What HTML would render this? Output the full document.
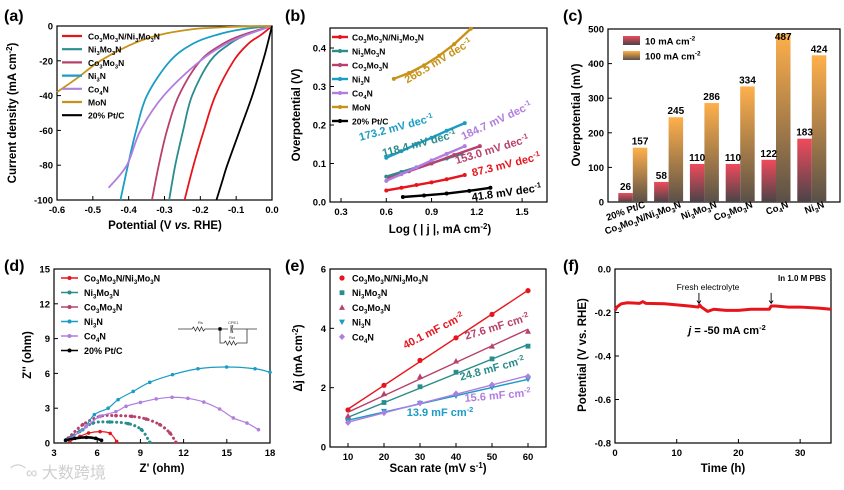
<!DOCTYPE html>
<html><head><meta charset="utf-8">
<style>
html,body{margin:0;padding:0;background:#fff;}
svg{display:block;font-family:"Liberation Sans","Noto Sans CJK SC",sans-serif;font-weight:bold;}
</style></head>
<body>
<svg id="root" width="844" height="490" viewBox="0 0 844 490" xmlns="http://www.w3.org/2000/svg">
<defs>
<linearGradient id="gRed" x1="0" y1="0" x2="0" y2="1"><stop offset="0" stop-color="#f04a5c"/><stop offset="1" stop-color="#4a4448"/></linearGradient>
<linearGradient id="gOr" x1="0" y1="0" x2="0" y2="1"><stop offset="0" stop-color="#ffb04a"/><stop offset="1" stop-color="#5a5048"/></linearGradient>
</defs>
</svg>
<script>
// ---------- Panel (a) data ----------
const aNames=["Co_3Mo_3N/Ni_3Mo_3N","Ni_3Mo_3N","Co_3Mo_3N","Ni_3N","Co_4N","MoN","20% Pt/C"];
const aColors=["#e8141c","#2a8c8c","#b8406c","#1a9cc4","#b07ee0","#c8921a","#000000"];
const aJ_red=[0,-5,-10,-20,-40,-60,-80,-100];
const aE_red=[0,-0.03,-0.065,-0.107,-0.158,-0.19,-0.219,-0.244];
const aJ_ni3mo3n=[0,-5,-10,-20,-40,-60,-80,-100];
const aE_ni3mo3n=[0,-0.07,-0.116,-0.172,-0.223,-0.248,-0.27,-0.287];
const aJ_co3mo3n=[0,-5,-10,-20,-40,-60,-80,-100];
const aE_co3mo3n=[0,-0.08,-0.135,-0.2,-0.26,-0.293,-0.316,-0.335];
const aJ_ni3n=[0,-2,-5,-10,-20,-40,-60,-80,-100];
const aE_ni3n=[0,-0.088,-0.153,-0.219,-0.284,-0.349,-0.379,-0.402,-0.423];
const aJ_co4n=[0,-5,-10,-20,-40,-60,-80,-93];
const aE_co4n=[0,-0.07,-0.126,-0.2,-0.302,-0.367,-0.405,-0.456];
const aJ_mon=[0,-0.3,-1,-2,-5,-10,-20,-30,-38];
const aE_mon=[0,-0.08,-0.163,-0.228,-0.312,-0.386,-0.479,-0.544,-0.6];
const aJ_pt=[0,-10,-20,-40,-60,-80,-90,-100];
const aE_pt=[0,-0.012,-0.025,-0.055,-0.09,-0.125,-0.14,-0.155];
const aXTicks=[-0.6,-0.5,-0.4,-0.3,-0.2,-0.1,0.0];
const aYTicks=[0,-20,-40,-60,-80,-100];

// ---------- Panel (b) data ----------
const bX_red=[0.6,0.7,0.8,0.9,1.0,1.12];
const bY_red=[0.03,0.037,0.044,0.051,0.059,0.07];
const bX_ni3mo3n=[0.6,0.7,0.8,0.9,1.0,1.1];
const bY_ni3mo3n=[0.066,0.078,0.09,0.101,0.113,0.125];
const bX_co3mo3n=[0.62,0.75,0.9,1.05,1.22];
const bY_co3mo3n=[0.062,0.08,0.1,0.122,0.145];
const bX_ni3n=[0.6,0.7,0.8,0.9,1.0,1.12];
const bY_ni3n=[0.115,0.132,0.15,0.167,0.185,0.205];
const bX_co4n=[0.6,0.7,0.8,0.9,1.0,1.12];
const bY_co4n=[0.055,0.072,0.09,0.108,0.125,0.145];
const bX_mon=[0.65,0.75,0.85,0.95,1.05,1.16];
const bY_mon=[0.32,0.335,0.355,0.38,0.41,0.45];
const bX_pt=[0.71,0.85,1.0,1.15,1.29];
const bY_pt=[0.013,0.017,0.022,0.029,0.037];
const bSlopes=["87.3","118.4","153.0","173.2","184.7","266.5","41.8"];
const bXTicks=[0.3,0.6,0.9,1.2,1.5];
const bYTicks=[0.0,0.1,0.2,0.3,0.4];

// ---------- Panel (c) data ----------
const cCats=["20% Pt/C","Co_3Mo_3N/Ni_3Mo_3N","Ni_3Mo_3N","Co_3Mo_3N","Co_4N","Ni_3N"];
const cV10=[26,58,110,110,122,183];
const cV100=[157,245,286,334,487,424];
const cYTicks=[0,100,200,300,400,500];

// ---------- Panel (d) data ----------
const dX_red=[4.1,4.8,5.4,6.2,6.9,7.35];
const dY_red=[0.14,0.57,0.86,0.98,0.83,0.14];
const dX_ni3mo3n=[3.86,4.78,5.7,6.87,8.15,9.07,9.65];
const dY_ni3mo3n=[0.29,1.0,1.72,1.81,1.67,1.15,0.06];
const dX_co3mo3n=[4.0,5.0,6.2,7.3,8.4,9.4,10.35,11.05,11.46];
const dY_co3mo3n=[0.43,1.58,2.3,2.36,2.3,2.07,1.58,0.86,0.06];
const dX_ni3n=[3.86,5.0,5.8,6.76,7.45,8.5,9.65,11.23,13.0,14.99,16.96,18.0];
const dY_ni3n=[0.29,1.15,2.44,3.0,3.74,4.45,5.23,5.89,6.4,6.55,6.4,6.1];
const dX_co4n=[4.1,5.25,6.2,7.3,8.0,9.0,10.1,11.2,12.3,13.4,14.5,15.45,16.4,17.2];
const dY_co4n=[0.3,1.44,2.3,2.7,3.16,3.5,3.8,3.94,3.85,3.53,2.93,2.16,1.72,1.15];
const dX_pt=[3.8,4.45,5.25,5.9,6.3];
const dY_pt=[0.23,0.4,0.49,0.4,0.23];
const dXTicks=[3,6,9,12,15,18];
const dYTicks=[0,3,6,9,12,15];

// ---------- Panel (e) data ----------
const eScan=[10,20,30,40,50,60];
const eRed=[1.25,2.08,2.92,3.68,4.47,5.27];
const eNi3Mo3N=[0.95,1.5,2.03,2.52,2.97,3.4];
const eCo3Mo3N=[1.05,1.8,2.38,2.9,3.4,3.9];
const eNi3N=[0.88,1.2,1.47,1.72,2.0,2.28];
const eCo4N=[0.82,1.15,1.48,1.8,2.1,2.38];
const eCdl=["40.1","24.8","27.6","13.9","15.6"];
const eXTicks=[10,20,30,40,50,60];
const eYTicks=[0,2,4,6];

// ---------- Panel (f) data ----------
const fT=[0,0.3,1,2,4,4.5,5,8,12,13.5,13.7,14,15,16,18,20,22,25,25.3,26,28,30,33,35];
const fE=[-0.19,-0.175,-0.16,-0.155,-0.158,-0.15,-0.158,-0.16,-0.17,-0.175,-0.165,-0.175,-0.195,-0.185,-0.19,-0.19,-0.185,-0.185,-0.17,-0.17,-0.175,-0.175,-0.18,-0.185];
const fArrowT=[13.6,25.3];
const fXTicks=[0,10,20,30];
const fYTicks=[0.0,-0.2,-0.4,-0.6,-0.8];

const NS="http://www.w3.org/2000/svg";
const root=document.getElementById('root');
function mk(tag,attrs,parent){const e=document.createElementNS(NS,tag);for(const k in attrs)e.setAttribute(k,attrs[k]);(parent||root).appendChild(e);return e;}
function rich(s){
  const re=/_(\{[^}]*\}|.)|\^(\{[^}]*\}|.)/g;let out='',off=0,last=0,m;
  const seg=(t,type)=>{if(!t)return;const d=type==='sub'?2.5:type==='sup'?-4:0;out+=`<tspan dy="${d-off}" font-size="${type==='n'?'100%':'68%'}">${t}</tspan>`;off=d;};
  while((m=re.exec(s))){seg(s.slice(last,m.index),'n');const v=(m[1]||m[2]).replace(/[{}]/g,'');seg(v,m[1]?'sub':'sup');last=re.lastIndex;}
  seg(s.slice(last),'n');if(off!==0)out+=`<tspan dy="${-off}"></tspan>`;return out;}
function txt(x,y,s,size,attrs){const e=mk('text',Object.assign({x:x,y:y,'font-size':size},attrs||{}));e.innerHTML=rich(s);return e;}

function axes(p){
  const sx=v=>p.x0+(v-p.xmin)/(p.xmax-p.xmin)*(p.x1-p.x0);
  const sy=v=>p.y1-(v-p.ymin)/(p.ymax-p.ymin)*(p.y1-p.y0);
  const g=mk('g',{});
  
  
  const fr=mk('rect',{x:p.x0,y:p.y0,width:p.x1-p.x0,height:p.y1-p.y0,fill:'none',stroke:'#000','stroke-width':1.2},g);
  
  
  if(p.xticks){p.xticks.forEach(v=>{const x=sx(v);mk('line',{x1:x,x2:x,y1:p.y1,y2:p.y1-4,stroke:'#000','stroke-width':1},g);
    const t=txt(x,p.y1+13,p.xfmt(v),9.5,{'text-anchor':'middle'});g.appendChild(t);
    
    });}
  p.yticks.forEach(v=>{const y=sy(v);mk('line',{x1:p.x0,x2:p.x0+4,y1:y,y2:y,stroke:'#000','stroke-width':1},g);
    const t=txt(p.x0-4,y+3.5,p.yfmt(v),9.5,{'text-anchor':'end'});g.appendChild(t);
    
    });
  return {sx,sy};
}
function poly(pts,color,w,name,extra){const e=mk('polyline',Object.assign({points:pts.map(p=>p.join(',')).join(' '),fill:'none',stroke:color,'stroke-width':w,'stroke-linejoin':'round'},extra||{}));
  
  return e;}
function smoothD(P){let d=`M${P[0][0]},${P[0][1]}`;
  for(let i=0;i<P.length-1;i++){const p0=P[i-1]||P[i],p1=P[i],p2=P[i+1],p3=P[i+2]||p2;
    const c1=[p1[0]+(p2[0]-p0[0])/6,p1[1]+(p2[1]-p0[1])/6],c2=[p2[0]-(p3[0]-p1[0])/6,p2[1]-(p3[1]-p1[1])/6];
    d+=` C${c1[0]},${c1[1]} ${c2[0]},${c2[1]} ${p2[0]},${p2[1]}`;}return d;}
function smooth(pts,color,w,name,extra){const e=mk('path',Object.assign({d:smoothD(pts),fill:'none',stroke:color,'stroke-width':w},extra||{}));
  
  return e;}
function panelLabel(x,y,s){const t=txt(x,y,s,16,{});
  
  }
function title(x,y,s,rot,name){const t=txt(x,y,s,11.5,{'text-anchor':'middle',transform:rot?`rotate(-90 ${x} ${y})`:''});
  
  }

// ===== Panel A =====
{
const A=axes({name:'lsv',x0:57,x1:272,y0:26,y1:200,xmin:-0.6,xmax:0,ymin:-100,ymax:0,xticks:aXTicks,yticks:aYTicks,xfmt:v=>v.toFixed(1),yfmt:v=>String(v)});
const J=[aJ_red,aJ_ni3mo3n,aJ_co3mo3n,aJ_ni3n,aJ_co4n,aJ_mon,aJ_pt];
const E=[aE_red,aE_ni3mo3n,aE_co3mo3n,aE_ni3n,aE_co4n,aE_mon,aE_pt];
J.forEach((j,k)=>smooth(j.map((v,i)=>[A.sx(E[k][i]),A.sy(v)]),aColors[k],1.8,'lsv-curve'));
aNames.forEach((n,k)=>{const y=36+k*13.2;const l=mk('line',{x1:62,x2:82,y1:y,y2:y,stroke:aColors[k],'stroke-width':2.2});
  
  
  const t=txt(88,y+3.5,n,8.5,{});
  
  });
panelLabel(4,21,'(a)');
title(16,113,'Current density (mA cm^{-2})',true,'y-axis-title');
title(165,229,'Potential (V <tspan font-style="italic">vs.</tspan> RHE)',false,'x-axis-title');
}

// ===== Panel B =====
{
const B=axes({name:'tafel',x0:330,x1:547,y0:28,y1:202,xmin:0.227,xmax:1.665,ymin:0,ymax:0.452,xticks:bXTicks,yticks:bYTicks,xfmt:v=>v.toFixed(1),yfmt:v=>v.toFixed(1)});
const X=[bX_red,bX_ni3mo3n,bX_co3mo3n,bX_ni3n,bX_co4n,bX_mon,bX_pt];
const Y=[bY_red,bY_ni3mo3n,bY_co3mo3n,bY_ni3n,bY_co4n,bY_mon,bY_pt];
X.forEach((xs,k)=>{const pts=xs.map((v,i)=>[B.sx(v),B.sy(Y[k][i])]);poly(pts,aColors[k],2.4,'tafel-line');
  pts.forEach(p=>{const c=mk('circle',{cx:p[0],cy:p[1],r:2,fill:aColors[k]});
    
    });});
aNames.forEach((n,k)=>{const y=37+k*14;const l=mk('line',{x1:332,x2:348,y1:y,y2:y,stroke:aColors[k],'stroke-width':2.4});
  
  
  const c=mk('circle',{cx:340,cy:y,r:2,fill:aColors[k]});
  
  
  const t=txt(352,y+3.5,n,8.5,{});
  
  });
const lp=[[507,168,-14],[420,147,-15],[493,153,-17],[397,131,-15],[498,124,-25],[440,64,-31],[507,196,-8]];
bSlopes.forEach((s,k)=>{const t=txt(lp[k][0],lp[k][1],s+' mV dec^{-1}',11,{'text-anchor':'middle',fill:aColors[k],transform:`rotate(${lp[k][2]} ${lp[k][0]} ${lp[k][1]})`});
  
  });
panelLabel(285,21,'(b)');
title(300,115,'Overpotential (V)',true,'y-axis-title');
title(440,233,'Log ( | j |, mA cm^{-2})',false,'x-axis-title');
}

// ===== Panel C =====
{
const C=axes({name:'overpotential-bars',x0:608,x1:840,y0:29,y1:202,xmin:0,xmax:1,ymin:0,ymax:500,xticks:null,yticks:cYTicks,xfmt:v=>'',yfmt:v=>String(v)});
const pitch=35.8,c0=632.8,bw=14.5;
cCats.forEach((cat,i)=>{const cx=c0+pitch*i;
  const r=mk('rect',{x:cx-bw,y:C.sy(cV10[i]),width:bw,height:202-C.sy(cV10[i]),fill:'url(#gRed)'});
  
  
  const o=mk('rect',{x:cx,y:C.sy(cV100[i]),width:bw,height:202-C.sy(cV100[i]),fill:'url(#gOr)'});
  
  
  const t1=txt(cx-bw/2,C.sy(cV10[i])-3,String(cV10[i]),10,{'text-anchor':'middle'});
  
  
  const t2=txt(cx+bw/2,Math.max(C.sy(cV100[i])-3,40),String(cV100[i]),10,{'text-anchor':'middle'});
  
  
  const ex=cx+13, ey=207;
  const tl=txt(ex,ey,cat,9.5,{'text-anchor':'end',transform:`rotate(-20 ${ex} ${ey})`});
  
  });
[['url(#gRed)','10 mA cm^{-2}',41],['url(#gOr)','100 mA cm^{-2}',56]].forEach(([f,s,y])=>{
  const r=mk('rect',{x:623,y:y-5,width:17,height:9,fill:f});
  
  
  const t=txt(645,y+3.5,s,9.5,{});
  
  });
panelLabel(563,21,'(c)');
title(580,115,'Overpotential (mV)',true,'y-axis-title');
}

// ===== Panel D =====
{
const D=axes({name:'nyquist',x0:54,x1:270,y0:269,y1:443,xmin:3,xmax:18,ymin:0,ymax:15,xticks:dXTicks,yticks:dYTicks,xfmt:v=>String(v),yfmt:v=>String(v)});
const X=[dX_red,dX_ni3mo3n,dX_co3mo3n,dX_ni3n,dX_co4n,dX_pt];
const Y=[dY_red,dY_ni3mo3n,dY_co3mo3n,dY_ni3n,dY_co4n,dY_pt];
const cols=[aColors[0],aColors[1],aColors[2],aColors[3],aColors[4],aColors[6]];
const dashed=[false,true,true,false,false,false];
X.forEach((xs,k)=>{const pts=xs.map((v,i)=>[D.sx(v),D.sy(Y[k][i])]);
  smooth(pts,cols[k],k===5?2.6:1.2,'nyquist-curve',dashed[k]?{'stroke-dasharray':'0.1 4.5','stroke-width':3,'stroke-linecap':'round'}:{});
  pts.forEach(p=>{const c=mk('circle',{cx:p[0],cy:p[1],r:1.8,fill:cols[k]});
    
    });});
const dn=["Co_3Mo_3N/Ni_3Mo_3N","Ni_3Mo_3N","Co_3Mo_3N","Ni_3N","Co_4N","20% Pt/C"];
dn.forEach((n,k)=>{const y=278+k*14.5;const l=mk('line',{x1:61,x2:78,y1:y,y2:y,stroke:cols[k],'stroke-width':1.5});
  
  
  const c=mk('circle',{cx:69.5,cy:y,r:2,fill:cols[k]});
  
  
  const t=txt(84,y+3.5,n,9,{});
  
  });
const ci=mk('g',{stroke:'#333','stroke-width':0.8,fill:'none'});


mk('path',{d:'M178 329 H192 l1.5 -2 l2 4 l2 -4 l2 4 l2 -4 l2 4 l1.5 -2 H228 M231 325 v8 M233 325 q-2 4 0 8 M233 329 H257 M220 329 V343 H224 l1.5 -2 l2 4 l2 -4 l2 4 l2 -4 l2 4 l1.5 -2 H247 V329'},ci);
mk('circle',{cx:220,cy:329,r:1.6,fill:'#000'},ci);
const rs=mk('text',{x:198,y:324,'font-size':4,'font-weight':'normal',fill:'#333',stroke:'none'},ci);rs.textContent='Rs';
const cp=mk('text',{x:228,y:324,'font-size':4,'font-weight':'normal',fill:'#333',stroke:'none'},ci);cp.textContent='CPE1';
const rc=mk('text',{x:229,y:339,'font-size':4,'font-weight':'normal',fill:'#333',stroke:'none'},ci);rc.textContent='Rct';
panelLabel(4,271,'(d)');
title(31,355,"Z'' (ohm)",true,'y-axis-title');
title(162,472,"Z' (ohm)",false,'x-axis-title');
const wm=txt(10,478,'⌒∞ 大数跨境',16,{fill:'#cfcfcf','font-weight':'normal'});


}

// ===== Panel E =====
{
const Ep=axes({name:'cdl',x0:330,x1:546,y0:269,y1:447,xmin:5,xmax:65,ymin:0,ymax:6,xticks:eXTicks,yticks:eYTicks,xfmt:v=>String(v),yfmt:v=>String(v)});
const S=[eRed,eNi3Mo3N,eCo3Mo3N,eNi3N,eCo4N];
const cols=[aColors[0],aColors[1],aColors[2],aColors[3],aColors[4]];
const shapes=['circle','square','tri','dtri','diamond'];
function marker(x,y,s,c){let e;
  if(s==='circle')e=mk('circle',{cx:x,cy:y,r:2.6,fill:c});
  else if(s==='square')e=mk('rect',{x:x-2.4,y:y-2.4,width:4.8,height:4.8,fill:c});
  else if(s==='tri')e=mk('polygon',{points:`${x},${y-3} ${x-3},${y+2.5} ${x+3},${y+2.5}`,fill:c});
  else if(s==='dtri')e=mk('polygon',{points:`${x},${y+3} ${x-3},${y-2.5} ${x+3},${y-2.5}`,fill:c});
  else e=mk('polygon',{points:`${x},${y-3.2} ${x+3},${y} ${x},${y+3.2} ${x-3},${y}`,fill:c});
  return e;}
S.forEach((ys,k)=>{const n=eScan.length;const mx=eScan.reduce((a,b)=>a+b)/n,my=ys.reduce((a,b)=>a+b)/n;
  let sxy=0,sxx=0;eScan.forEach((x,i)=>{sxy+=(x-mx)*(ys[i]-my);sxx+=(x-mx)*(x-mx);});const m=sxy/sxx,b=my-m*mx;
  const x0=eScan[0],x1=eScan[n-1];
  poly([[Ep.sx(x0),Ep.sy(m*x0+b)],[Ep.sx(x1),Ep.sy(m*x1+b)]],cols[k],1.4,'cdl-fit-line');
  eScan.forEach((x,i)=>{const e=marker(Ep.sx(x),Ep.sy(ys[i]),shapes[k],cols[k]);
    
    });});
const en=["Co_3Mo_3N/Ni_3Mo_3N","Ni_3Mo_3N","Co_3Mo_3N","Ni_3N","Co_4N"];
en.forEach((n,k)=>{const y=278+k*14.7;const e=marker(342,y,shapes[k],cols[k]);
  
  
  const t=txt(352,y+3.5,n,9,{});
  
  });
const lp=[[435,334,-27],[493,372,-15],[498,330,-17],[440,416,0],[498,399,-5]];
eCdl.forEach((s,k)=>{const t=txt(lp[k][0],lp[k][1],s+' mF cm^{-2}',11,{'text-anchor':'middle',fill:cols[k],transform:`rotate(${lp[k][2]} ${lp[k][0]} ${lp[k][1]})`});
  
  });
panelLabel(285,271,'(e)');
title(302,358,'Δj (mA cm^{-2})',true,'y-axis-title');
title(438,472,'Scan rate (mV s^{-1})',false,'x-axis-title');
}

// ===== Panel F =====
{
const F=axes({name:'stability',x0:615,x1:831,y0:269,y1:443,xmin:0,xmax:35,ymin:-0.8,ymax:0,xticks:fXTicks,yticks:fYTicks,xfmt:v=>String(v),yfmt:v=>v.toFixed(1)});
poly(fT.map((t,i)=>[F.sx(t),F.sy(fE[i])]),'#e8141c',3,'stability-curve');
fArrowT.forEach(t=>{const x=F.sx(t);const a=mk('path',{d:`M${x} ${F.sy(-0.11)} V${F.sy(-0.155)} M${x-2} ${F.sy(-0.145)} L${x} ${F.sy(-0.158)} L${x+2} ${F.sy(-0.145)}`,stroke:'#000','stroke-width':0.9,fill:'none'});
  
  });
const t1=txt(708,290,'Fresh electrolyte',8.5,{'text-anchor':'middle','font-weight':'normal'});


const t2=txt(826,281,'In 1.0 M PBS',8,{'text-anchor':'end'});


const t3=txt(727,334,'<tspan font-style="italic">j</tspan> = -50 mA cm^{-2}',11,{'text-anchor':'middle'});


panelLabel(563,271,'(f)');
title(586,355,'Potential (V vs. RHE)',true,'y-axis-title');
title(723,472,'Time (h)',false,'x-axis-title');
}
</script>
</body></html>
